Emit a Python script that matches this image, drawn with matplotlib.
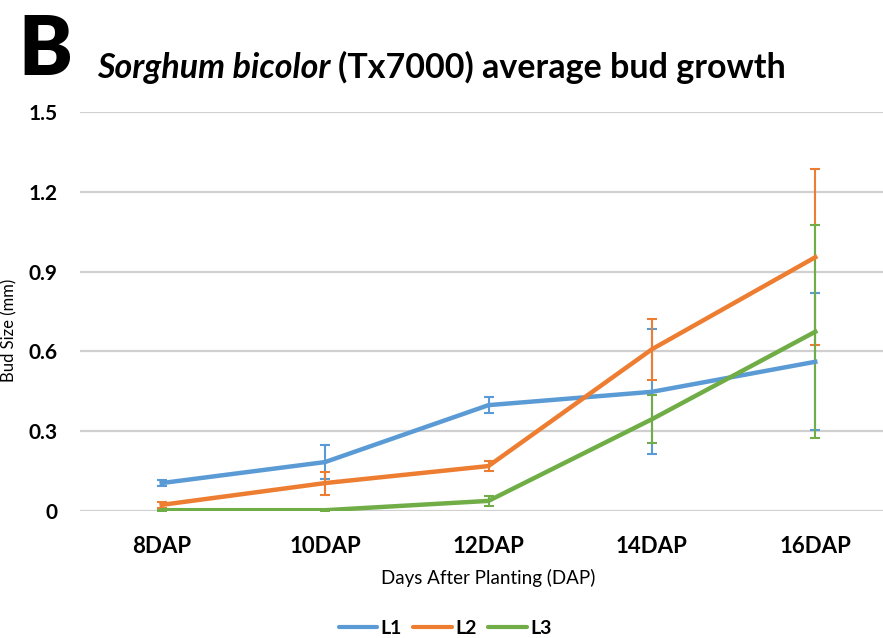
import numpy as np
import matplotlib.pyplot as plt
from matplotlib.lines import Line2D

# data
days = ['8DAP', '10DAP', '12DAP', '14DAP', '16DAP']
l1 = [0.105, 0.184, 0.398, 0.448, 0.561]
l1_err = [0.01, 0.065, 0.03, 0.235, 0.257]
l2 = [0.023, 0.105, 0.169, 0.608, 0.954]
l2_err = [0.012, 0.043, 0.02, 0.115, 0.33]
l3 = [0.003, 0.003, 0.038, 0.345, 0.674]
l3_err = [0.002, 0.002, 0.02, 0.09, 0.40]
yticks = [0, 0.3, 0.6, 0.9, 1.2, 1.5]
ytick_labels = ['0', '0.3', '0.6', '0.9', '1.2', '1.5']

colors = ['#5B9BD5', '#ED7D31', '#70AD47']

plt.rcParams['font.family'] = ['Lato', 'DejaVu Sans']

W, H = 883, 638
fig = plt.figure(figsize=(W / 100, H / 100), dpi=100)
# plot area runs past the right edge like the cropped original
ax = fig.add_axes([80 / W, 1 - 511 / H, (897 - 80) / W, (511 - 112) / H])

x = np.arange(len(days))
series = [('L1', l1, l1_err), ('L2', l2, l2_err), ('L3', l3, l3_err)]
for (name, vals, errs), c in zip(series, colors):
    ax.errorbar(x, vals, yerr=errs, color=c, lw=3.2, elinewidth=1.5,
                ecolor=c, capsize=3.5, capthick=1.5, label=name, zorder=3)

ax.set_xlim(-0.5, 4.5)
ax.set_ylim(0, 1.5)
ax.set_yticks(yticks)
ax.set_yticklabels(ytick_labels, fontsize=15, fontweight='bold')
ax.set_xticks(x)
ax.set_xticklabels(days, fontsize=16, fontweight='bold')
ax.tick_params(axis='y', length=0, pad=16)
ax.tick_params(axis='x', length=0, pad=18)
ax.grid(axis='y', color='#D0D0D0', lw=1.6, zorder=0)
for s in ax.spines.values():
    s.set_visible(False)
ax.set_axisbelow(True)

fig.text(9 / W, 1 - 330 / H, 'Bud Size (mm)', rotation=90, fontsize=12,
         ha='center', va='center')
fig.text(488 / W, 1 - 578 / H, 'Days After Planting (DAP)', fontsize=13.5,
         ha='center', va='center')

fig.text(18 / W, 1 - 75 / H, 'B', fontsize=58, fontweight='heavy',
         ha='left', va='baseline')
t1 = fig.text(97 / W, 1 - 78 / H, 'Sorghum bicolor', fontsize=24.5,
              fontweight='bold', fontstyle='italic', ha='left', va='baseline')
fig.canvas.draw()
bb = t1.get_window_extent()
fig.text((bb.x1 + 8) / W, 1 - 78 / H, '(Tx7000) average bud growth',
         fontsize=24.5, fontweight='bold', ha='left', va='baseline')

labels = [s[0] for s in series]
proxies = [Line2D([0], [0], color=c, lw=3.0, solid_capstyle='round') for c in colors]
fig.legend(proxies, labels, loc='center', bbox_to_anchor=(445 / W, 1 - 628 / H),
           ncol=3, frameon=False, prop={'weight': 'bold', 'size': 14},
           handlelength=2.0, handletextpad=0.15, columnspacing=0.6)

fig.savefig('out.png', dpi=100)
